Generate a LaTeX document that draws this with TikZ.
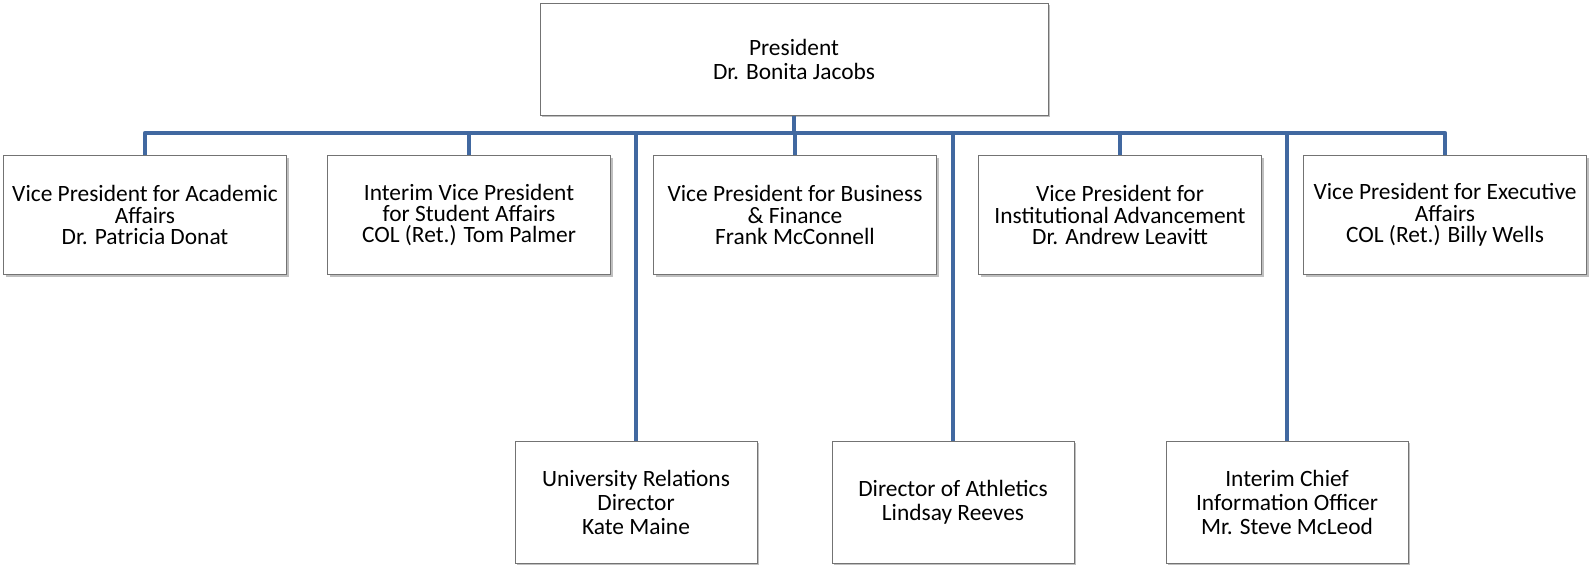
\documentclass[tikz,border=0pt]{standalone}
\usepackage{fontspec}
\setmainfont{Carlito}
\usepackage{tikz}
\usetikzlibrary{shadows}
\usetikzlibrary{positioning}
\usetikzlibrary{calc}
\definecolor{linkblue}{RGB}{65,104,160}
\tikzstyle{box}=[rectangle,draw=black!55,fill=white,line width=0.5pt,align=center,inner sep=2pt,font=\fontsize{11.7}{12}\selectfont,drop shadow={shadow xshift=1.2pt,shadow yshift=-1.2pt,opacity=0.5}]
\tikzstyle{topbox}=[box,minimum width=254pt,minimum height=56pt]
\tikzstyle{vpbox}=[box,minimum width=141.5pt,minimum height=59.5pt,font=\fontsize{11.7}{10.7}\selectfont]
\tikzstyle{lowbox}=[box,minimum width=121pt,minimum height=61pt]
\tikzstyle{link}=[linkblue,line width=2.3pt,line join=round]

\begin{document}
\begin{tikzpicture}[x=0.5pt,y=-0.5pt]
\useasboundingbox (0,0) rectangle (1589,568);

%President
    \node[topbox] (pres) at (794,59) {President\\Dr. Bonita Jacobs};
    \coordinate (bus) at (0,133);

%Vice presidents
    \foreach \pos/\name/\label in {{(145,215)/vp1/{Vice President for Academic\\Affairs\\Dr. Patricia Donat}},
        {(469,215)/vp2/{Interim Vice President\\for Student Affairs\\COL (Ret.) Tom Palmer}},
        {(795,215)/vp3/{Vice President for Business\\\& Finance\\Frank McConnell}},
        {(1120,215)/vp4/{Vice President for\\Institutional Advancement\\Dr. Andrew Leavitt}},
        {(1445,215)/vp5/{Vice President for Executive\\Affairs\\COL (Ret.) Billy Wells}}}
        \node[vpbox] (\name) at \pos {\label};

%Directors
    \foreach \pos/\name/\label in {{(636,502)/rel/{University Relations\\Director\\Kate Maine}},
        {(953,502)/ath/{Director of Athletics\\Lindsay Reeves}},
        {(1287,502)/cio/{Interim Chief\\Information Officer\\Mr. Steve McLeod}}}
        \node[lowbox] (\name) at \pos {\label};

%Lines
  \draw[link] (vp1.north) |- (vp5.north |- bus) -- (vp5.north);
  \draw[link] (pres.south) -- (pres.south |- bus);
  \foreach \dest in {vp2, vp3, vp4, rel, ath, cio}
          \draw[link] (\dest.north |- bus) -- (\dest.north);

\end{tikzpicture}
\end{document}
